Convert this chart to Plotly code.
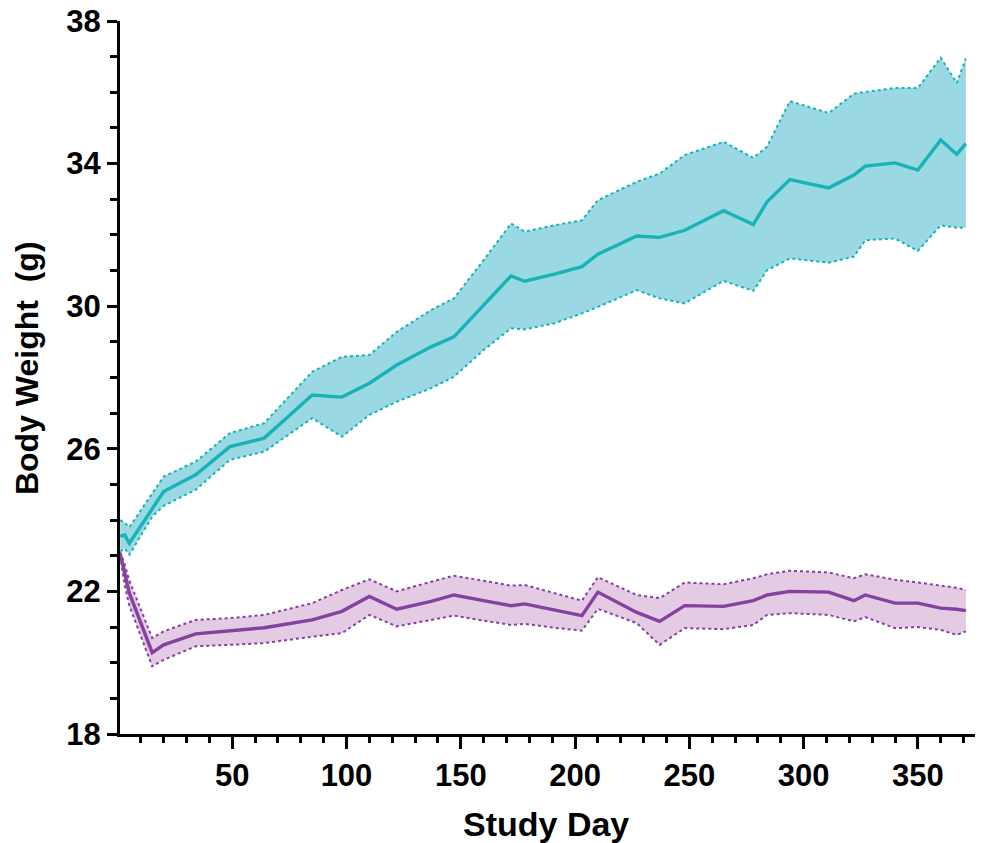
import plotly.graph_objects as go

days = [1, 3, 5, 15, 20, 34, 49, 64, 85, 98, 110, 122, 137, 147, 160, 172, 178, 191,
        203, 210, 227, 237, 248, 265, 278, 284, 294, 311, 322, 327, 340, 350, 360, 367, 371]

teal_mean = [23.55, 23.58, 23.35, 24.29, 24.8, 25.27, 26.06, 26.3, 27.51, 27.45, 27.84, 28.35,
             28.86, 29.14, 30.03, 30.85, 30.7, 30.9, 31.11, 31.46, 31.97, 31.93, 32.13, 32.68,
             32.29, 32.93, 33.55, 33.32, 33.68, 33.93, 34.02, 33.82, 34.66, 34.26, 34.56]
teal_upper = [24.0, 23.92, 23.8, 24.75, 25.22, 25.64, 26.44, 26.72, 28.16, 28.58, 28.63, 29.28,
              29.89, 30.22, 31.29, 32.32, 32.09, 32.27, 32.41, 32.97, 33.49, 33.72, 34.24, 34.61,
              34.16, 34.47, 35.75, 35.42, 35.96, 36.01, 36.12, 36.12, 36.97, 36.26, 36.95]
teal_lower = [23.12, 23.2, 23.03, 24.1, 24.4, 24.85, 25.69, 25.92, 26.86, 26.34, 26.95, 27.32,
              27.7, 28.02, 28.77, 29.38, 29.35, 29.52, 29.8, 29.98, 30.45, 30.22, 30.08, 30.71,
              30.43, 31.01, 31.34, 31.22, 31.39, 31.85, 31.9, 31.55, 32.27, 32.2, 32.21]

purple_mean = [23.05, 22.45, 21.95, 20.28, 20.5, 20.81, 20.9, 20.98, 21.2, 21.44, 21.86, 21.5,
               21.72, 21.9, 21.74, 21.6, 21.65, 21.48, 21.32, 21.98, 21.41, 21.16, 21.6, 21.58,
               21.74, 21.9, 22.0, 21.98, 21.74, 21.9, 21.67, 21.67, 21.53, 21.5, 21.46]
purple_upper = [23.1, 22.75, 22.3, 20.69, 20.88, 21.2, 21.25, 21.34, 21.67, 22.04, 22.34, 22.0,
                22.27, 22.44, 22.3, 22.16, 22.18, 21.95, 21.74, 22.4, 21.9, 21.81, 22.25, 22.2,
                22.37, 22.48, 22.58, 22.53, 22.37, 22.48, 22.33, 22.25, 22.16, 22.1, 22.04]
purple_lower = [23.0, 22.15, 21.6, 19.9, 20.08, 20.46, 20.5, 20.55, 20.73, 20.83, 21.34, 21.02,
                21.2, 21.32, 21.18, 21.06, 21.09, 20.98, 20.9, 21.51, 21.11, 20.5, 20.97, 20.94,
                21.06, 21.34, 21.39, 21.34, 21.16, 21.28, 20.97, 21.0, 20.92, 20.78, 20.88]

x_ticks = [50, 100, 150, 200, 250, 300, 350]
y_ticks = [18, 22, 26, 30, 34, 38]

TEAL_LINE = "#17B3B6"
TEAL_FILL = "#9AD8E4"
PURPLE_LINE = "#8341A0"
PURPLE_FILL = "#E5CAE4"

fig = go.Figure()


def add_band(lower, upper, mean, line_color, fill_color):
    fig.add_trace(go.Scatter(x=days, y=lower, mode="lines",
                             line=dict(color=line_color, width=2, dash="dot"),
                             hoverinfo="skip", showlegend=False))
    fig.add_trace(go.Scatter(x=days, y=upper, mode="lines", fill="tonexty",
                             fillcolor=fill_color,
                             line=dict(color=line_color, width=2, dash="dot"),
                             hoverinfo="skip", showlegend=False))
    fig.add_trace(go.Scatter(x=days, y=mean, mode="lines",
                             line=dict(color=line_color, width=3.4),
                             showlegend=False))


add_band(purple_lower, purple_upper, purple_mean, PURPLE_LINE, PURPLE_FILL)
add_band(teal_lower, teal_upper, teal_mean, TEAL_LINE, TEAL_FILL)

FAM = "Liberation Sans, Arial, sans-serif"
tick_font = dict(family=FAM, size=31, color="black", weight="bold")
xtitle_font = dict(family=FAM, size=34, color="black", weight="bold")
ytitle_font = dict(family=FAM, size=32, color="black", weight="bold")

fig.update_layout(
    width=981, height=843,
    margin=dict(l=120, r=6, t=21, b=109, autoexpand=False),
    paper_bgcolor="white", plot_bgcolor="white",
    font=tick_font,
    showlegend=False,
    annotations=[
        dict(text="Study Day", xref="paper", yref="paper", x=0.498, y=-0.126,
             xanchor="center", yanchor="middle", showarrow=False, font=xtitle_font),
        dict(text="Body Weight\u00a0 (g)", xref="paper", yref="paper", x=-0.109, y=0.513,
             xanchor="center", yanchor="middle", showarrow=False, textangle=-90,
             font=ytitle_font),
    ],
)

fig.update_xaxes(
    range=[0.9, 375], showgrid=False, zeroline=False, automargin=False,
    showline=True, linecolor="black", linewidth=3,
    tickmode="array", tickvals=x_ticks, ticktext=[str(v) for v in x_ticks],
    ticks="outside", ticklen=12, tickwidth=3, tickcolor="black",
    minor=dict(dtick=10, tick0=0, ticks="outside", ticklen=6, tickwidth=3, tickcolor="black"),
    tickfont=tick_font, ticklabeloverflow="allow",
)

fig.update_yaxes(
    range=[18, 38], showgrid=False, zeroline=False, automargin=False,
    showline=True, linecolor="black", linewidth=3,
    tickmode="array", tickvals=y_ticks, ticktext=[str(v) for v in y_ticks],
    ticks="outside", ticklen=10, tickwidth=3, tickcolor="black",
    minor=dict(dtick=1, tick0=18, ticks="outside", ticklen=7, tickwidth=3, tickcolor="black"),
    tickfont=tick_font, ticklabeloverflow="allow",
)

fig.write_html("out.html",
               config={"displayModeBar": False},
               post_script="document.body.style.margin='0';document.body.style.padding='0';")
